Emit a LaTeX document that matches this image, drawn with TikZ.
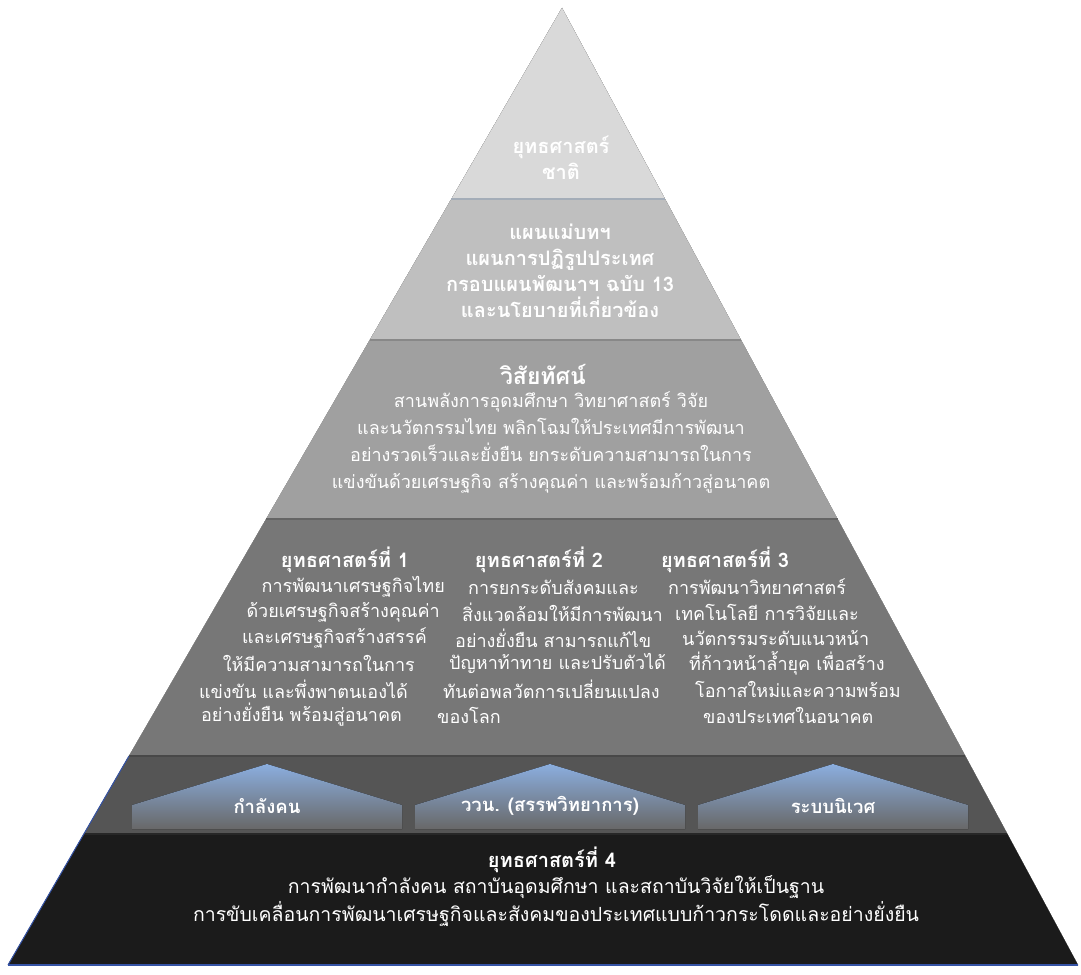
\documentclass[tikz,border=0pt]{standalone}
\usepackage{fontspec}
\newfontfamily\thaifont[Script=Thai]{Loma}
\usetikzlibrary{calc}
\definecolor{layA}{HTML}{D9D9D9}
\definecolor{layB}{HTML}{BFBFBF}
\definecolor{layC}{HTML}{A0A0A0}
\definecolor{layD}{HTML}{777777}
\definecolor{layE}{HTML}{555555}
\definecolor{layF}{HTML}{1B1B1B}
\definecolor{sepA}{HTML}{A4ADB8}
\definecolor{houseTop}{HTML}{8BAEDF}
\definecolor{houseBot}{HTML}{686868}
\definecolor{edgeBlue}{HTML}{3553A5}
\tikzset{
	txt/.style={text=white, inner sep=0pt, font=\thaifont\fontsize{18}{27}\selectfont},
	boldtxt/.style={txt, font=\thaifont\bfseries\fontsize{20}{26}\selectfont},
	house/.style={top color=houseTop, bottom color=houseBot}
}

\begin{document}
\begin{tikzpicture}[x=1pt,y=-1pt]
	\useasboundingbox (0,0) rectangle (1081,974);
	\coordinate (apex) at (562,8);
	\coordinate (bl) at (8,965);
	\coordinate (br) at (1078,965);
	\foreach \s [evaluate=\s as \c using {int(3+3*(14-\s))}] in {14,13,...,1}
		\fill[black!\c,shift={(\s,0.5*\s)}] (apex) -- (br) -- (bl) -- cycle;
	\foreach \n/\t in {1/0.1996,2/0.3469,3/0.534,4/0.7816,5/0.8631}{
		\coordinate (L\n) at ($(apex)!\t!(bl)$);
		\coordinate (R\n) at ($(apex)!\t!(br)$);
	}
	\fill[layA] (apex) -- (R1) -- (L1) -- cycle;
	\fill[layB] (L1) -- (R1) -- (R2) -- (L2) -- cycle;
	\fill[layC] (L2) -- (R2) -- (R3) -- (L3) -- cycle;
	\fill[layD] (L3) -- (R3) -- (R4) -- (L4) -- cycle;
	\fill[layE] (L4) -- (R4) -- (R5) -- (L5) -- cycle;
	\fill[layF] (L5) -- (R5) -- (br) -- (bl) -- cycle;
	\draw[line width=1.5,sepA] (L1) -- (R1);
	\draw[line width=1.5,layC!85!black] (L2) -- (R2);
	\draw[line width=1.5,layD!85!black] (L3) -- (R3);
	\draw[line width=1.5,layE!85!black] (L4) -- (R4);
	\draw[line width=1.5,layF!80!layE] (L5) -- (R5);
	\draw[line width=1,edgeBlue] (L4) -- (bl);
	\draw[line width=2.5,edgeBlue] (bl) -- (br);

	\node[boldtxt,align=center] (nat) at (561,158) {ยุทธศาสตร์\\ชาติ};
	\node[boldtxt,align=center] (plans) at (560,271) {แผนแม่บทฯ\\แผนการปฏิรูปประเทศ\\กรอบแผนพัฒนาฯ ฉบับ 13\\และนโยบายที่เกี่ยวข้อง};
	\node[boldtxt,font=\thaifont\bfseries\fontsize{23}{27}\selectfont] (vis) at (543,374) {วิสัยทัศน์};
	\node[txt,align=center] (visbody) at (551,442.5) {สานพลังการอุดมศึกษา วิทยาศาสตร์ วิจัย\\และนวัตกรรมไทย พลิกโฉมให้ประเทศมีการพัฒนา\\อย่างรวดเร็วและยั่งยืน ยกระดับความสามารถในการ\\แข่งขันด้วยเศรษฐกิจ สร้างคุณค่า และพร้อมก้าวสู่อนาคต};

	\node[boldtxt] (st1) at (345,560) {ยุทธศาสตร์ที่ 1};
	\node[boldtxt] (st2) at (539,560) {ยุทธศาสตร์ที่ 2};
	\node[boldtxt] (st3) at (725,560) {ยุทธศาสตร์ที่ 3};
	\foreach \xe/\t [count=\i] in {445/การพัฒนาเศรษฐกิจไทย,440/ด้วยเศรษฐกิจสร้างคุณค่า,427/และเศรษฐกิจสร้างสรรค์,415/ให้มีความสามารถในการ,408/แข่งขัน และพึ่งพาตนเองได้,402/อย่างยั่งยืน พร้อมสู่อนาคต}
		\node[txt,anchor=east] (a\i) at (\xe,{561.4+25.6*\i}) {\t};
	\foreach \xs/\t [count=\i] in {468/การยกระดับสังคมและ,462/สิ่งแวดล้อมให้มีการพัฒนา,455/อย่างยั่งยืน สามารถแก้ไข,449/ปัญหาท้าทาย และปรับตัวได้,443/ทันต่อพลวัตการเปลี่ยนแปลง,437/ของโลก}
		\node[txt,anchor=west] (b\i) at (\xs,{561.4+25.6*\i}) {\t};
	\foreach \xs/\t [count=\i] in {668/การพัฒนาวิทยาศาสตร์,675/เทคโนโลยี การวิจัยและ,682/นวัตกรรมระดับแนวหน้า,689/ที่ก้าวหน้าล้ำยุค เพื่อสร้าง,695/โอกาสใหม่และความพร้อม,703/ของประเทศในอนาคต}
		\node[txt,anchor=west] (c\i) at (\xs,{561.4+25.6*\i}) {\t};

	\foreach \x/\t [count=\i] in {132/กำลังคน,415/{ววน. (สรรพวิทยาการ)},698/ระบบนิเวศ}{
		\fill[house] (\x,829) -- (\x,805) -- ({\x+135},764) -- ({\x+270},805) -- ({\x+270},829) -- cycle;
		\node[boldtxt,font=\thaifont\bfseries\fontsize{18.5}{22}\selectfont] (h\i) at ({\x+135},806) {\t};
	}

	\node[boldtxt] (st4) at (552,860) {ยุทธศาสตร์ที่ 4};
	\node[txt,align=center,font=\thaifont\fontsize{19.5}{28}\selectfont] (st4body) at (556,901) {การพัฒนากำลังคน สถาบันอุดมศึกษา และสถาบันวิจัยให้เป็นฐาน\\การขับเคลื่อนการพัฒนาเศรษฐกิจและสังคมของประเทศแบบก้าวกระโดดและอย่างยั่งยืน};
\end{tikzpicture}
\end{document}
